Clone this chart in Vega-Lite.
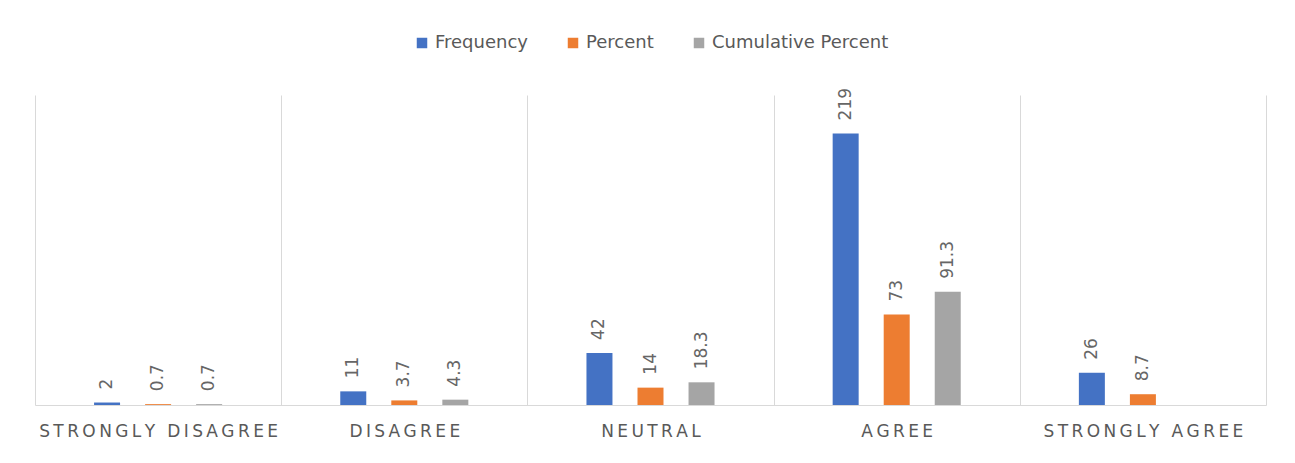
{
  "$schema": "https://vega.github.io/schema/vega-lite/v6.json",
  "width": 1231,
  "height": 310,
  "autosize": {"type": "none"},
  "padding": {"left": 35, "top": 95, "right": 29, "bottom": 58},
  "background": "white",
  "config": {"view": {"stroke": null}, "font": "DejaVu Sans"},
  "data": {
    "values": [
      {"category": "STRONGLY DISAGREE", "series": "Frequency", "value": 2},
      {"category": "STRONGLY DISAGREE", "series": "Percent", "value": 0.7},
      {"category": "STRONGLY DISAGREE", "series": "Cumulative Percent", "value": 0.7},
      {"category": "DISAGREE", "series": "Frequency", "value": 11},
      {"category": "DISAGREE", "series": "Percent", "value": 3.7},
      {"category": "DISAGREE", "series": "Cumulative Percent", "value": 4.3},
      {"category": "NEUTRAL", "series": "Frequency", "value": 42},
      {"category": "NEUTRAL", "series": "Percent", "value": 14},
      {"category": "NEUTRAL", "series": "Cumulative Percent", "value": 18.3},
      {"category": "AGREE", "series": "Frequency", "value": 219},
      {"category": "AGREE", "series": "Percent", "value": 73},
      {"category": "AGREE", "series": "Cumulative Percent", "value": 91.3},
      {"category": "STRONGLY AGREE", "series": "Frequency", "value": 26},
      {"category": "STRONGLY AGREE", "series": "Percent", "value": 8.7}
    ]
  },
  "encoding": {
    "x": {
      "field": "category",
      "type": "nominal",
      "sort": ["STRONGLY DISAGREE", "DISAGREE", "NEUTRAL", "AGREE", "STRONGLY AGREE"],
      "scale": {"paddingInner": 0, "paddingOuter": 0},
      "axis": {
        "title": null,
        "tickBand": "extent",
        "grid": true,
        "gridColor": "#D9D9D9",
        "gridWidth": 1,
        "ticks": false,
        "domainColor": "#D9D9D9",
        "domainWidth": 1,
        "labelAngle": 0,
        "labelLimit": 0,
        "labelFontSize": 17,
        "labelColor": "#595959",
        "labelPadding": 18,
        "labelExpr": "join(split(datum.label, ''), '\u2009')"
      }
    },
    "xOffset": {
      "field": "series",
      "type": "nominal",
      "sort": ["Frequency", "Percent", "Cumulative Percent"],
      "scale": {"paddingInner": 0, "paddingOuter": 0.912}
    },
    "y": {
      "field": "value",
      "type": "quantitative",
      "scale": {"domain": [0, 250]},
      "axis": null
    }
  },
  "layer": [
    {
      "mark": {"type": "bar", "width": 26},
      "encoding": {
        "color": {
          "field": "series",
          "type": "nominal",
          "sort": ["Frequency", "Percent", "Cumulative Percent"],
          "scale": {
            "domain": ["Frequency", "Percent", "Cumulative Percent"],
            "range": ["#4472C4", "#ED7D31", "#A5A5A5"]
          },
          "legend": {
            "title": null,
            "orient": "none",
            "direction": "horizontal",
            "columns": 3,
            "legendX": 378,
            "legendY": -61,
            "symbolType": "square",
            "symbolSize": 110,
            "symbolStrokeWidth": 0,
            "labelFontSize": 18,
            "labelLimit": 0,
            "labelColor": "#595959",
            "labelOffset": 4,
            "columnPadding": 36
          }
        }
      }
    },
    {
      "mark": {
        "type": "text",
        "angle": 270,
        "align": "left",
        "baseline": "middle",
        "dx": 13,
        "fontSize": 17,
        "color": "#666666"
      },
      "encoding": {
        "text": {"field": "value", "type": "quantitative"}
      }
    }
  ]
}
